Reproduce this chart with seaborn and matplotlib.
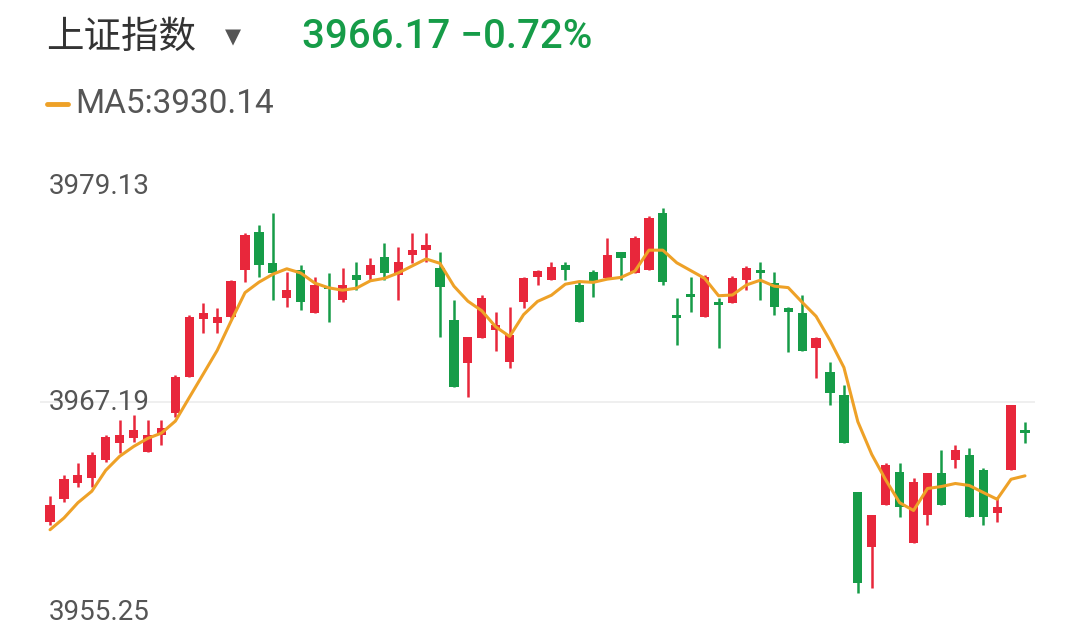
import numpy as np
import pandas as pd
import seaborn as sns
import matplotlib
matplotlib.use("Agg")
import matplotlib.pyplot as plt

opens = [3961.01,3962.19,3963.02,3963.28,3964.20,3965.08,3965.33,3964.62,3965.49,3966.62,
         3968.47,3971.46,3971.25,3971.56,3973.99,3975.94,3974.35,3972.54,3973.99,3971.77,
         3973.11,3972.44,3973.73,3973.73,3974.66,3973.73,3974.76,3975.02,3974.09,3971.41,
         3969.21,3970.48,3970.89,3969.25,3972.34,3973.63,3973.47,3974.24,3973.21,3973.88,
         3973.57,3974.91,3973.83,3973.99,3976.92,3971.66,3972.75,3971.56,3972.34,3972.29,
         3973.47,3973.99,3973.32,3972.03,3971.77,3969.96,3968.73,3967.55,3962.55,3959.73,
         3961.88,3963.58,3959.94,3961.37,3963.53,3964.20,3964.46,3963.69,3961.47,3963.69,
         3965.75]
closes = [3961.88,3963.22,3963.43,3964.46,3965.38,3965.49,3965.74,3965.49,3965.85,3968.47,
          3971.56,3971.77,3971.56,3973.42,3975.79,3974.24,3973.83,3972.95,3972.34,3973.21,
          3973.01,3973.21,3973.47,3974.24,3973.83,3974.40,3975.02,3975.27,3973.11,3967.96,
          3970.54,3972.54,3971.15,3970.63,3973.57,3973.94,3974.14,3973.99,3971.30,3973.37,
          3974.76,3974.60,3975.63,3976.66,3973.37,3971.51,3972.60,3973.63,3972.18,3973.57,
          3974.09,3973.83,3972.08,3971.82,3969.80,3970.48,3967.65,3965.08,3957.87,3961.37,
          3963.94,3961.78,3963.07,3963.53,3961.88,3964.72,3961.27,3961.27,3961.78,3967.03,
          3965.60]
highs = [3962.35,3963.43,3964.05,3964.62,3965.49,3966.26,3966.52,3966.26,3966.26,3968.57,
         3971.66,3972.29,3972.03,3973.47,3975.89,3976.30,3976.92,3973.88,3974.24,3973.63,
         3973.83,3974.09,3974.40,3974.60,3975.38,3975.17,3975.89,3975.89,3974.91,3972.44,
         3970.54,3972.70,3971.82,3972.08,3973.63,3973.99,3974.40,3974.40,3973.37,3973.99,
         3975.63,3974.91,3975.73,3976.76,3977.18,3972.54,3973.63,3973.73,3972.54,3973.68,
         3974.19,3974.40,3973.88,3972.08,3972.70,3970.53,3969.24,3968.06,3962.55,3961.37,
         3964.05,3964.05,3963.28,3963.53,3964.72,3964.97,3964.82,3963.79,3962.29,3967.03,
         3966.16]
lows = [3960.85,3962.04,3962.81,3962.81,3964.10,3964.56,3965.13,3964.62,3964.98,3966.42,
        3968.47,3970.74,3970.74,3971.51,3973.37,3973.63,3972.44,3972.08,3971.92,3971.77,
        3971.30,3972.34,3972.95,3973.47,3973.47,3972.44,3974.35,3974.40,3970.53,3967.96,
        3967.45,3970.48,3969.83,3968.94,3972.03,3973.21,3973.47,3973.47,3971.30,3972.60,
        3973.57,3973.47,3973.83,3973.99,3973.21,3970.12,3971.82,3971.56,3969.96,3972.29,
        3972.95,3972.44,3971.66,3969.78,3969.80,3968.42,3967.03,3965.08,3957.36,3957.61,
        3961.88,3961.27,3959.94,3960.85,3961.88,3963.79,3961.27,3960.85,3961.01,3963.69,
        3965.08]
prior_closes = [3960.2, 3959.5, 3961.5, 3960.0]
ytick_values = [3955.25, 3967.19, 3979.13]
title_text = "上证指数"
price_text = "3966.17 −0.72%"
ma_label = "MA5:3930.14"

RED = "#e8273b"
GREEN = "#169c48"
ORANGE = "#eea127"

sns.set_theme(style="white")
plt.rcParams['font.family'] = ['Noto Sans CJK SC', 'DejaVu Sans']

df = pd.DataFrame({"o": opens, "c": closes, "h": highs, "l": lows})
df["x"] = np.arange(1, len(df) + 1)
allc = pd.Series(prior_closes + closes)
df["ma5"] = allc.rolling(5).mean().iloc[len(prior_closes):].values
up = df["c"] >= df["o"]
df["color"] = np.where(up, RED, GREEN)

fig = plt.figure(figsize=(10.8, 6.39), dpi=100)
ax = fig.add_axes([40/1080, 1 - 634/639, 995/1080, 464/639])
ax.set_xlim(0.28, len(df) + 0.72)
ax.set_ylim(ytick_values[0], ytick_values[-1])

ax.axhline(ytick_values[1], color="#ececec", lw=1.2, zorder=0)

ax.vlines(df["x"], df["l"], df["h"], colors=df["color"], lw=1.8, zorder=2)
body = (df["c"] - df["o"]).where((df["c"] - df["o"]).abs() > 0.12,
                                  np.sign(df["c"] - df["o"] + 1e-9) * 0.12)
ax.bar(df["x"], body, bottom=df["o"], width=0.66, color=df["color"], zorder=3, linewidth=0)
sns.lineplot(x=df["x"], y=df["ma5"], ax=ax, color=ORANGE, lw=2.2, zorder=4)

for s in ax.spines.values():
    s.set_visible(False)
ax.set_xticks([]); ax.set_yticks([])
ax.set_xlabel(""); ax.set_ylabel("")

lab_kw = dict(fontsize=20, color="#555555", family=['Roboto', 'DejaVu Sans'])
fig.text(49/1080, 1 - 187/639, f"{ytick_values[2]:.2f}", va="center", **lab_kw)
fig.text(49/1080, 1 - 402/639, f"{ytick_values[1]:.2f}", va="center", **lab_kw)
fig.text(49/1080, 1 - 612/639, f"{ytick_values[0]:.2f}", va="center", **lab_kw)

fig.text(46/1080, 1 - 37/639, title_text, fontsize=27, color="#333333", va="center")
fig.text(225/1080, 1 - 37/639, "▼", fontsize=15, color="#555555", va="center",
         family=['DejaVu Sans'])
fig.text(302/1080, 1 - 37/639, price_text, fontsize=29, color=GREEN, va="center",
         fontweight="medium", family=['Roboto', 'DejaVu Sans'])
fig.add_artist(plt.Line2D([47/1080, 68/1080], [1 - 104/639, 1 - 104/639],
                          color=ORANGE, lw=3.5, transform=fig.transFigure))
fig.text(75/1080, 1 - 104/639, ma_label, fontsize=24, color="#555555", va="center",
         family=['Roboto', 'DejaVu Sans'])

fig.savefig("out.png", dpi=100)
